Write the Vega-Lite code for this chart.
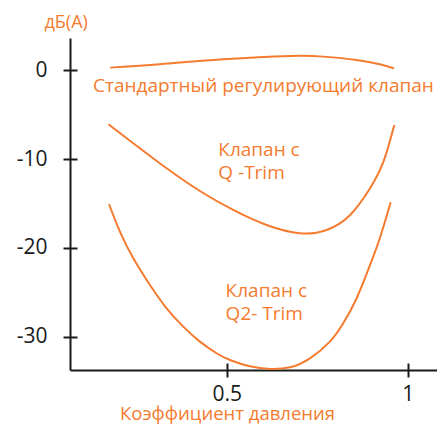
{
  "$schema": "https://vega.github.io/schema/vega-lite/v6.json",
  "width": 367,
  "height": 332,
  "autosize": {"type": "none"},
  "padding": {"left": 70, "top": 38, "right": 0, "bottom": 55},
  "background": "white",
  "config": {"view": {"stroke": null}, "font": "Open Sans"},
  "resolve": {"axis": {"x": "independent", "y": "independent"}},
  "layer": [
    {
      "data": {
        "values": [
          {"curve": "Стандартный", "k": 0.178, "db": 0.32},
          {"curve": "Стандартный", "k": 0.307, "db": 0.68},
          {"curve": "Стандартный", "k": 0.491, "db": 1.26},
          {"curve": "Стандартный", "k": 0.675, "db": 1.63},
          {"curve": "Стандартный", "k": 0.767, "db": 1.56},
          {"curve": "Стандартный", "k": 0.859, "db": 1.18},
          {"curve": "Стандартный", "k": 0.923, "db": 0.7},
          {"curve": "Стандартный", "k": 0.962, "db": 0.25},
          {"curve": "Q-Trim", "k": 0.173, "db": -6.07},
          {"curve": "Q-Trim", "k": 0.242, "db": -8.21},
          {"curve": "Q-Trim", "k": 0.334, "db": -11.03},
          {"curve": "Q-Trim", "k": 0.426, "db": -13.59},
          {"curve": "Q-Trim", "k": 0.518, "db": -15.73},
          {"curve": "Q-Trim", "k": 0.61, "db": -17.42},
          {"curve": "Q-Trim", "k": 0.702, "db": -18.35},
          {"curve": "Q-Trim", "k": 0.776, "db": -17.98},
          {"curve": "Q-Trim", "k": 0.841, "db": -16.29},
          {"curve": "Q-Trim", "k": 0.896, "db": -13.28},
          {"curve": "Q-Trim", "k": 0.933, "db": -10.28},
          {"curve": "Q-Trim", "k": 0.963, "db": -6.14},
          {"curve": "Q2-Trim", "k": 0.175, "db": -15.08},
          {"curve": "Q2-Trim", "k": 0.205, "db": -18.17},
          {"curve": "Q2-Trim", "k": 0.242, "db": -21.17},
          {"curve": "Q2-Trim", "k": 0.288, "db": -24.18},
          {"curve": "Q2-Trim", "k": 0.334, "db": -26.81},
          {"curve": "Q2-Trim", "k": 0.38, "db": -28.88},
          {"curve": "Q2-Trim", "k": 0.426, "db": -30.57},
          {"curve": "Q2-Trim", "k": 0.472, "db": -31.88},
          {"curve": "Q2-Trim", "k": 0.509, "db": -32.64},
          {"curve": "Q2-Trim", "k": 0.564, "db": -33.35},
          {"curve": "Q2-Trim", "k": 0.62, "db": -33.65},
          {"curve": "Q2-Trim", "k": 0.675, "db": -33.46},
          {"curve": "Q2-Trim", "k": 0.73, "db": -32.45},
          {"curve": "Q2-Trim", "k": 0.785, "db": -30.57},
          {"curve": "Q2-Trim", "k": 0.822, "db": -28.5},
          {"curve": "Q2-Trim", "k": 0.859, "db": -25.68},
          {"curve": "Q2-Trim", "k": 0.896, "db": -21.93},
          {"curve": "Q2-Trim", "k": 0.923, "db": -18.92},
          {"curve": "Q2-Trim", "k": 0.953, "db": -14.86}
        ]
      },
      "mark": {"type": "line", "interpolate": "natural", "color": "#F47B2F", "strokeWidth": 2},
      "encoding": {
        "x": {
          "field": "k",
          "type": "quantitative",
          "scale": {"domain": [0.0671, 1.081], "nice": false, "zero": false},
          "axis": {
            "orient": "bottom",
            "values": [0.5, 1],
            "grid": false,
            "tickSize": 7,
            "tickWidth": 2,
            "tickColor": "#1a1a1a",
            "domainColor": "#1a1a1a",
            "domainWidth": 2,
            "labelFontSize": 21,
            "labelColor": "#1a1a1a",
            "labelPadding": 6,
            "labelOverlap": false,
            "labelExpr": "datum.value + ''",
            "title": "Коэффициент давления",
            "titleColor": "#F47B2F",
            "titleFontSize": 18.5,
            "titleFontWeight": "normal",
            "titleX": 157,
            "titleY": 49,
            "titleAlign": "center",
            "titleBaseline": "alphabetic"
          }
        },
        "y": {
          "field": "db",
          "type": "quantitative",
          "scale": {"domain": [-33.77, 3.66], "nice": false, "zero": false},
          "axis": {
            "orient": "left",
            "values": [0, -10, -20, -30],
            "grid": false,
            "tickSize": 7,
            "tickWidth": 2,
            "tickColor": "#1a1a1a",
            "domainColor": "#1a1a1a",
            "domainWidth": 2,
            "labelFontSize": 21,
            "labelColor": "#1a1a1a",
            "labelPadding": 16,
            "labelOverlap": false,
            "labelExpr": "datum.value + ''",
            "title": "дБ(А)",
            "titleColor": "#F47B2F",
            "titleFontSize": 18,
            "titleFontWeight": "normal",
            "titleAngle": 0,
            "titleX": -26,
            "titleY": -11,
            "titleAlign": "left",
            "titleBaseline": "alphabetic"
          }
        },
        "detail": {"field": "curve"}
      }
    },
    {
      "data": {
        "values": [
          {"k": 0.1307, "db": -2.42, "label": "Стандартный регулирующий клапан"},
          {"k": 0.4768, "db": -9.6, "label": "Клапан с\nQ -Trim"},
          {"k": 0.497, "db": -25.5, "label": "Клапан с\nQ2- Trim"}
        ]
      },
      "mark": {"type": "text", "align": "left", "baseline": "alphabetic", "fontSize": 19, "color": "#F47B2F", "lineBreak": "\n", "lineHeight": 23},
      "encoding": {
        "x": {
          "field": "k",
          "type": "quantitative",
          "axis": {"orient": "bottom", "values": [0.5, 1], "grid": false, "tickSize": -7, "tickWidth": 2, "tickColor": "#1a1a1a", "domain": false, "labels": false, "title": null}
        },
        "y": {
          "field": "db",
          "type": "quantitative",
          "axis": {"orient": "left", "values": [0, -10, -20, -30], "grid": false, "tickSize": -7, "tickWidth": 2, "tickColor": "#1a1a1a", "domain": false, "labels": false, "title": null}
        },
        "text": {"field": "label"}
      }
    }
  ]
}
